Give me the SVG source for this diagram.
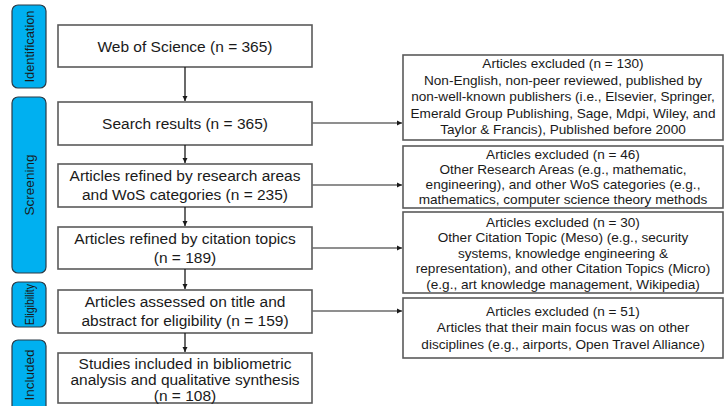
<svg xmlns="http://www.w3.org/2000/svg" width="725" height="406" viewBox="0 0 725 406">
<defs>
<style>
.phase{fill:#00B0F0;stroke:#2b3a46;stroke-width:1.2}
.pt{font-family:"Liberation Sans",Arial,sans-serif;font-size:13.5px;fill:#1a1a1a;text-anchor:middle}
.box{fill:#fff;stroke:#5a5a5a;stroke-width:1.6}
.mt{font-family:"Liberation Sans",Arial,sans-serif;font-size:15.5px;fill:#1a1a1a;text-anchor:middle}
.rt{font-family:"Liberation Sans",Arial,sans-serif;font-size:13.6px;fill:#1a1a1a;text-anchor:middle}
.v{stroke:#1a1a1a;stroke-width:1.3;fill:none}
.h{stroke:#6a6a6a;stroke-width:1.5;fill:none}
</style>
<marker id="ah" markerWidth="6" markerHeight="6" refX="5" refY="3" orient="auto" markerUnits="userSpaceOnUse">
<path d="M0,0.5 L5,3 L0,5.5 Z" fill="#1a1a1a"/>
</marker>
</defs>

<g id="phase-identification"><rect class="phase" x="12" y="5" width="34" height="83" rx="6"/><text class="pt" transform="translate(34,46.5) rotate(-90)" textLength="72" lengthAdjust="spacingAndGlyphs">Identification</text></g>
<g id="phase-screening"><rect class="phase" x="12" y="97" width="34" height="176" rx="6"/><text class="pt" transform="translate(34,185) rotate(-90)">Screening</text></g>
<g id="phase-eligibility"><rect class="phase" x="12" y="282" width="34" height="45" rx="6"/><text class="pt" transform="translate(34,304.5) rotate(-90)" textLength="41" lengthAdjust="spacingAndGlyphs">Eligibility</text></g>
<g id="phase-included"><rect class="phase" x="12" y="340" width="34" height="80" rx="6"/><text class="pt" transform="translate(34,375) rotate(-90)">Included</text></g>

<g id="n-wos"><rect class="box" x="58" y="25" width="254" height="42"/><text class="mt" x="185" y="51.5">Web of Science (n = 365)</text></g>
<g id="n-search"><rect class="box" x="58" y="102" width="254" height="43"/><text class="mt" x="185" y="129">Search results (n = 365)</text></g>
<g id="n-refined"><rect class="box" x="58" y="164" width="254" height="43"/><text class="mt" x="185" y="181">Articles refined by research areas</text><text class="mt" x="185" y="200">and WoS categories (n = 235)</text></g>
<g id="n-citation"><rect class="box" x="58" y="227" width="254" height="42"/><text class="mt" x="185" y="243.5">Articles refined by citation topics</text><text class="mt" x="185" y="262.5">(n = 189)</text></g>
<g id="n-assessed"><rect class="box" x="58" y="290" width="254" height="43"/><text class="mt" x="185" y="307">Articles assessed on title and</text><text class="mt" x="185" y="326">abstract for eligibility (n = 159)</text></g>
<g id="n-included"><rect class="box" x="58" y="353" width="254" height="50"/><text class="mt" x="185" y="368.5">Studies included in bibliometric</text><text class="mt" x="185" y="385">analysis and qualitative synthesis</text><text class="mt" x="185" y="401">(n = 108)</text></g>

<g id="x-130"><rect class="box" x="403" y="55" width="320" height="85"/>
<text class="rt" x="563" y="68">Articles excluded (n = 130)</text>
<text class="rt" x="563" y="84.5">Non-English, non-peer reviewed, published by</text>
<text class="rt" x="563" y="101">non-well-known publishers (i.e., Elsevier, Springer,</text>
<text class="rt" x="563" y="117.5">Emerald Group Publishing, Sage, Mdpi, Wiley, and</text>
<text class="rt" x="563" y="134">Taylor &amp; Francis), Published before 2000</text></g>
<g id="x-46"><rect class="box" x="403" y="146" width="320" height="62"/>
<text class="rt" x="563" y="158.5">Articles excluded (n = 46)</text>
<text class="rt" x="563" y="173.8">Other Research Areas (e.g., mathematic,</text>
<text class="rt" x="563" y="189.1">engineering), and other WoS categories (e.g.,</text>
<text class="rt" x="563" y="204.4">mathematics, computer science theory methods</text></g>
<g id="x-30"><rect class="box" x="403" y="212" width="320" height="81"/>
<text class="rt" x="563" y="226.5">Articles excluded (n = 30)</text>
<text class="rt" x="563" y="242">Other Citation Topic (Meso) (e.g., security</text>
<text class="rt" x="563" y="257.5">systems, knowledge engineering &amp;</text>
<text class="rt" x="563" y="273">representation), and other Citation Topics (Micro)</text>
<text class="rt" x="563" y="288.5">(e.g., art knowledge management, Wikipedia)</text></g>
<g id="x-51"><rect class="box" x="403" y="298" width="320" height="60"/>
<text class="rt" x="563" y="315.5">Articles excluded (n = 51)</text>
<text class="rt" x="563" y="332">Articles that their main focus was on other</text>
<text class="rt" x="563" y="348.5">disciplines (e.g., airports, Open Travel Alliance)</text></g>

<g id="connectors">
<line class="v" x1="185" y1="67" x2="185" y2="101" marker-end="url(#ah)"/>
<line class="v" x1="185" y1="145" x2="185" y2="163" marker-end="url(#ah)"/>
<line class="v" x1="185" y1="207" x2="185" y2="226" marker-end="url(#ah)"/>
<line class="v" x1="185" y1="269" x2="185" y2="289" marker-end="url(#ah)"/>
<line class="v" x1="185" y1="333" x2="185" y2="352" marker-end="url(#ah)"/>
<line class="h" x1="312" y1="123" x2="402" y2="123" marker-end="url(#ah)"/>
<line class="h" x1="312" y1="185" x2="402" y2="185" marker-end="url(#ah)"/>
<line class="h" x1="312" y1="248" x2="402" y2="248" marker-end="url(#ah)"/>
<line class="h" x1="312" y1="311" x2="402" y2="311" marker-end="url(#ah)"/>
</g>
</svg>
